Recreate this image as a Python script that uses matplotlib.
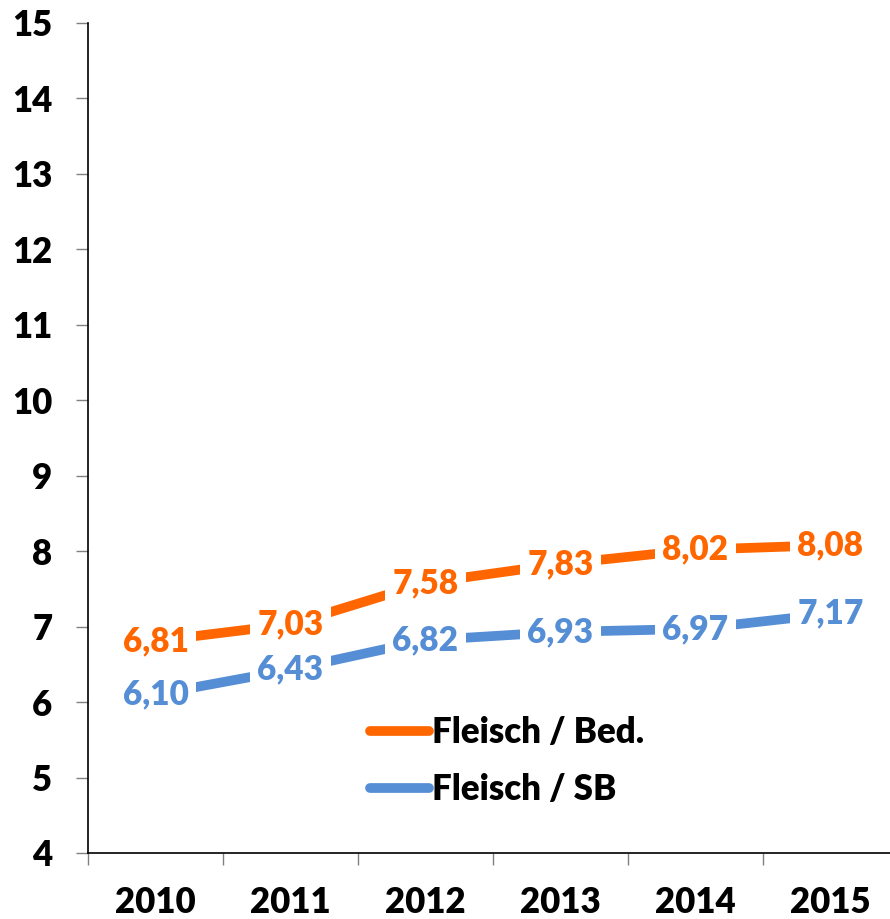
import matplotlib
matplotlib.use("Agg")
import matplotlib.pyplot as plt

years = ["2010", "2011", "2012", "2013", "2014", "2015"]
bed = [6.81, 7.03, 7.58, 7.83, 8.02, 8.08]
sb = [6.10, 6.43, 6.82, 6.93, 6.97, 7.17]
labels_bed = ["6,81", "7,03", "7,58", "7,83", "8,02", "8,08"]
labels_sb = ["6,10", "6,43", "6,82", "6,93", "6,97", "7,17"]
series_names = ["Fleisch / Bed.", "Fleisch / SB"]

ORANGE = "#FF6600"
BLUE = "#558ED5"
FONT = "Lato"
WEIGHT = "heavy"

W, H = 890, 919
fig = plt.figure(figsize=(W / 100, H / 100), dpi=100)
left, right, top, bottom = 88, 898, 23, 853
ax = fig.add_axes([left / W, (H - bottom) / H, (right - left) / W, (bottom - top) / H])

x = list(range(len(years)))
ax.plot(x, bed, color=ORANGE, lw=7, solid_capstyle="butt", zorder=2, label=series_names[0])
ax.plot(x, sb, color=BLUE, lw=7, solid_capstyle="butt", zorder=2, label=series_names[1])

for xi, v, t in zip(x, bed, labels_bed):
    ax.text(xi, v, t, ha="center", va="center", color=ORANGE, fontsize=24,
            fontweight=WEIGHT, family=FONT, zorder=3,
            bbox=dict(boxstyle="square,pad=0.22", fc="white", ec="none"))
for xi, v, t in zip(x, sb, labels_sb):
    ax.text(xi, v, t, ha="center", va="center", color=BLUE, fontsize=24,
            fontweight=WEIGHT, family=FONT, zorder=3,
            bbox=dict(boxstyle="square,pad=0.22", fc="white", ec="none"))

ax.set_xlim(-0.5, len(years) - 0.5)
ax.set_ylim(4, 15)
ax.set_yticks(range(4, 16))
ax.set_yticklabels([str(v) for v in range(4, 16)], fontsize=25, fontweight=WEIGHT, family=FONT)
ax.set_xticks([i - 0.5 for i in range(len(years) + 1)])
ax.set_xticklabels([])
ax.set_xticks(x, minor=True)
ax.set_xticklabels(years, minor=True, fontsize=25, fontweight=WEIGHT, family=FONT)
ax.tick_params(axis="x", which="minor", length=0, pad=24)
ax.tick_params(axis="x", which="major", length=8.6, color="#808080", width=1)
ax.tick_params(axis="y", length=8.6, color="#808080", width=1, pad=17)

for s in ["top", "right"]:
    ax.spines[s].set_visible(False)
for s in ["left", "bottom"]:
    ax.spines[s].set_color("black")
    ax.spines[s].set_linewidth(1.2)

leg = ax.legend(loc="center left", bbox_to_anchor=(370 / W, (H - 761) / H),
                bbox_transform=fig.transFigure, frameon=False, borderpad=0,
                borderaxespad=0, handlelength=1.7, handletextpad=0.08,
                labelspacing=0.7, prop=dict(family=FONT, weight=WEIGHT, size=25))
for line in leg.get_lines():
    line.set_linewidth(7)
    line.set_solid_capstyle("round")

fig.savefig("out.png", dpi=100)
